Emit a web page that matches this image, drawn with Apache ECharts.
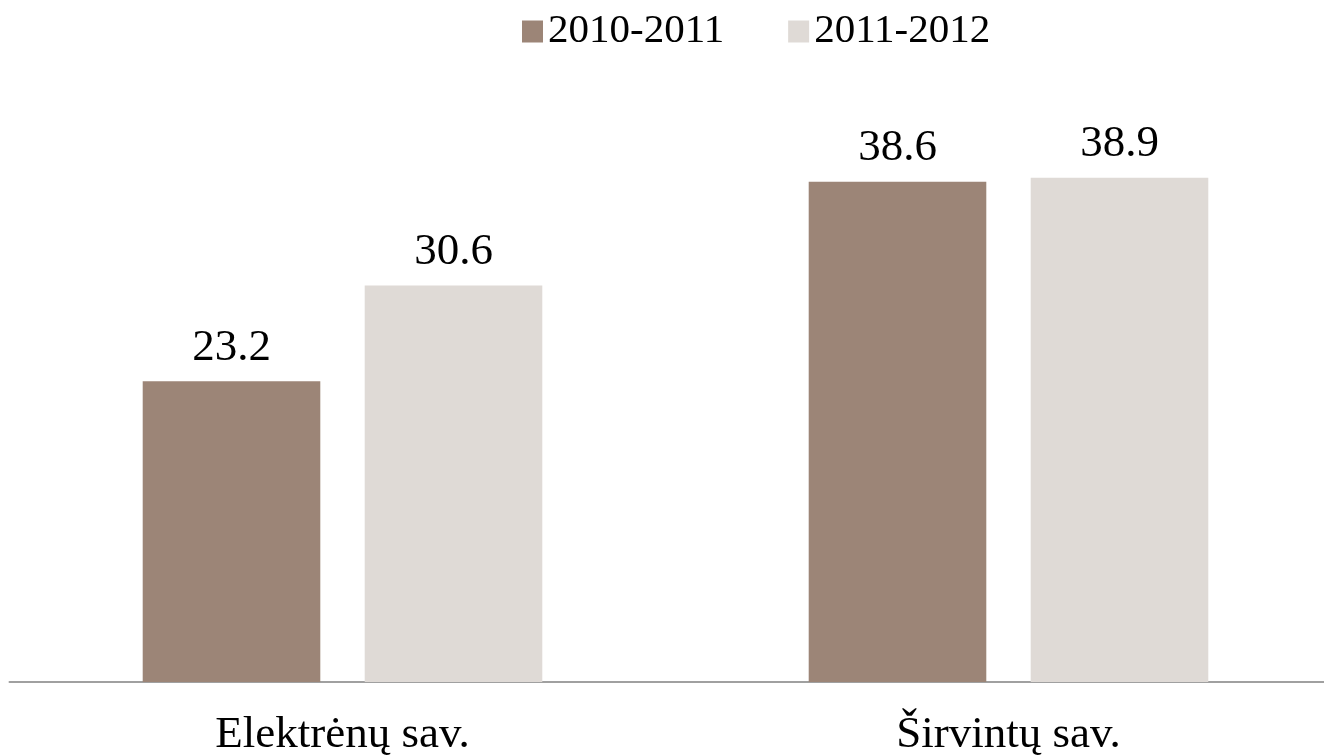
<!DOCTYPE html>
<html>
<head>
<meta charset="utf-8">
<script src="https://cdn.jsdelivr.net/npm/echarts@6/dist/echarts.min.js"></script>
<style>html,body{margin:0;padding:0;background:#fff;overflow:hidden;width:1324px;height:755px;}#c{width:1342px;height:755px;}</style>
</head>
<body>
<div id="c"></div>
<script>
const categories = ['Elektrėnų sav.', 'Širvintų sav.'];
const seriesNames = ['2010-2011', '2011-2012'];
const values2010 = [23.2, 38.6];
const values2011 = [30.6, 38.9];
const colors = ['#9C8577', '#DFDAD6'];
const FONT = '"Liberation Serif", serif';

const chart = echarts.init(document.getElementById('c'), null, {renderer: 'canvas'});
const label = {show: true, position: 'top', distance: 11, color: '#000', fontFamily: FONT, fontSize: 45};
chart.setOption({
  animation: false,
  textStyle: {fontFamily: FONT},
  legend: {
    left: 517, top: 6,
    itemWidth: 21, itemHeight: 22, itemGap: 64,
    icon: 'rect',
    textStyle: {fontFamily: FONT, fontSize: 41, color: '#000', padding: [0, 0, 0, 0]},
    data: seriesNames
  },
  grid: {left: 9.5, right: 0.5, top: 34, bottom: 73, containLabel: false, outerBoundsMode: 'none'},
  xAxis: {
    type: 'category', data: categories,
    axisLine: {lineStyle: {color: '#A0A0A0', width: 2}},
    axisTick: {show: false},
    axisLabel: {fontFamily: FONT, fontSize: 45, color: '#000', margin: 31}
  },
  yAxis: {type: 'value', min: 0, max: 50, show: false, splitLine: {show: false}},
  series: [
    {name: seriesNames[0], type: 'bar', data: values2010, itemStyle: {color: colors[0]}, barGap: '25%', barCategoryGap: '40%', label: label},
    {name: seriesNames[1], type: 'bar', data: values2011, itemStyle: {color: colors[1]}, barGap: '25%', barCategoryGap: '40%', label: label}
  ]
});
</script>
</body>
</html>
